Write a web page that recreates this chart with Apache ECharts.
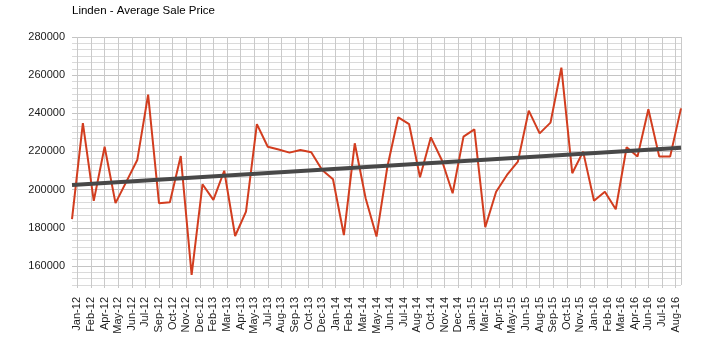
<!DOCTYPE html>
<html>
<head>
<meta charset="utf-8">
<title>Linden - Average Sale Price</title>
<script src="https://cdn.jsdelivr.net/npm/echarts@6/dist/echarts.min.js"></script>
<style>
  html, body { margin: 0; padding: 0; background: #fff; }
  #chart { width: 723px; height: 354px; }
</style>
</head>
<body>
<div id="chart"></div>
<script>
const months = [
  "Jan-12", "Feb-12", "Mar-12", "Apr-12", "May-12", "Jun-12", "Jul-12", "Aug-12", "Sep-12", "Oct-12", "Nov-12", "Dec-12",
  "Jan-13", "Feb-13", "Mar-13", "Apr-13", "May-13", "Jun-13", "Jul-13", "Aug-13", "Sep-13", "Oct-13", "Nov-13", "Dec-13",
  "Jan-14", "Feb-14", "Mar-14", "Apr-14", "May-14", "Jun-14", "Jul-14", "Aug-14", "Sep-14", "Oct-14", "Nov-14", "Dec-14",
  "Jan-15", "Feb-15", "Mar-15", "Apr-15", "May-15", "Jun-15", "Jul-15", "Aug-15", "Sep-15", "Oct-15", "Nov-15", "Dec-15",
  "Jan-16", "Feb-16", "Mar-16", "Apr-16", "May-16", "Jun-16", "Jul-16", "Aug-16", "Sep-16"
];

const salePrice = [
  184500, 234800, 194100, 222500, 192900, 204200, 215500, 249800, 192900, 193400, 217600, 155300,
  202800, 194600, 209900, 175700, 188500, 234300, 222500, 221000, 219400, 220800, 219600, 210300,
  205400, 176200, 224300, 195500, 175400, 212000, 237900, 234300, 206500, 227400, 215500, 198100,
  227800, 231600, 180300, 198900, 207700, 214700, 241400, 229500, 235100, 263900, 208600, 219900,
  194200, 198900, 189700, 222200, 217300, 242100, 217300, 217300, 242600
];

// axis labels as printed under the chart (one every 1.25 months)
const tickLabels = [
  "Jan-12", "Feb-12", "Apr-12", "May-12", "Jun-12", "Jul-12", "Sep-12", "Oct-12", "Nov-12", "Dec-12",
  "Feb-13", "Mar-13", "Apr-13", "May-13", "Jul-13", "Aug-13", "Sep-13", "Oct-13", "Dec-13",
  "Jan-14", "Feb-14", "Mar-14", "May-14", "Jun-14", "Jul-14", "Aug-14", "Oct-14", "Nov-14", "Dec-14",
  "Jan-15", "Mar-15", "Apr-15", "May-15", "Jun-15", "Aug-15", "Sep-15", "Oct-15", "Nov-15",
  "Jan-16", "Feb-16", "Mar-16", "Apr-16", "Jun-16", "Jul-16", "Aug-16"
];

// trend line, first and last month
const trendEnds = [202400, 222000];

// label axis is cut in quarter-month slots: first tick half a month in, then every 5 slots
const slotsPerMonth = 4;
const firstTickSlot = 2;
const tickStep = 5;
const slotCount = (months.length - 1) * slotsPerMonth + 1;
const slotIds = [];
const slotText = [];
for (let i = 0; i < slotCount; i++) {
  slotIds.push("s" + i);
  slotText.push("");
}
tickLabels.forEach((t, k) => { slotText[firstTickSlot + k * tickStep] = t; });
const isTick = (i) => slotText[i] !== "";

const minorStep = 20000 / 6;
const lineData = salePrice.map((v, i) => [i, v]);
const trendData = [[0, trendEnds[0]], [months.length - 1, trendEnds[1]]];

const chart = echarts.init(document.getElementById("chart"));
chart.setOption({
  animation: false,
  backgroundColor: "#fff",
  textStyle: { fontFamily: "Liberation Sans, Arial, sans-serif" },
  title: {
    text: "Linden - Average Sale Price",
    left: 72,
    top: 5,
    padding: 0,
    textStyle: { fontSize: 11.5, fontWeight: "normal", color: "#000", fontFamily: "Liberation Sans, Arial, sans-serif" }
  },
  grid: { left: 72, right: 42, top: 37, bottom: 69, outerBoundsMode: "none" },
  xAxis: [
    {
      type: "category",
      data: slotIds,
      boundaryGap: false,
      axisLine: { show: false },
      axisTick: {
        show: true,
        interval: (i) => isTick(i),
        length: 3,
        lineStyle: { color: "#c8c8c8" }
      },
      axisLabel: {
        interval: (i) => isTick(i),
        formatter: (v, i) => slotText[i],
        rotate: 90,
        margin: 12,
        fontSize: 11,
        color: "#1a1a1a"
      },
      splitLine: {
        show: true,
        interval: (i) => isTick(i) || i === slotCount - 1,
        lineStyle: { color: "#cacaca", width: 1 }
      }
    },
    { type: "value", min: 0, max: months.length - 1, show: false }
  ],
  yAxis: {
    type: "value",
    min: 150000,
    max: 280000,
    interval: minorStep,
    axisLine: { show: false },
    axisTick: { show: false },
    axisLabel: {
      margin: 7,
      fontSize: 11,
      color: "#1a1a1a",
      formatter: (v) => {
        const r = Math.round(v);
        return r % 20000 === 0 ? String(r) : "";
      }
    },
    splitLine: {
      lineStyle: { color: ["#dadada", "#dadada", "#dadada", "#c4c4c4", "#dadada", "#dadada"], width: 1 }
    }
  },
  series: [
    {
      name: "Average Sale Price",
      type: "line",
      xAxisIndex: 1,
      data: lineData,
      symbol: "none",
      lineStyle: { color: "#d23d1f", width: 2 },
      z: 2
    },
    {
      name: "Trend",
      type: "line",
      xAxisIndex: 1,
      data: trendData,
      symbol: "none",
      lineStyle: { color: "#484848", width: 4 },
      z: 3
    }
  ]
});
</script>
</body>
</html>
